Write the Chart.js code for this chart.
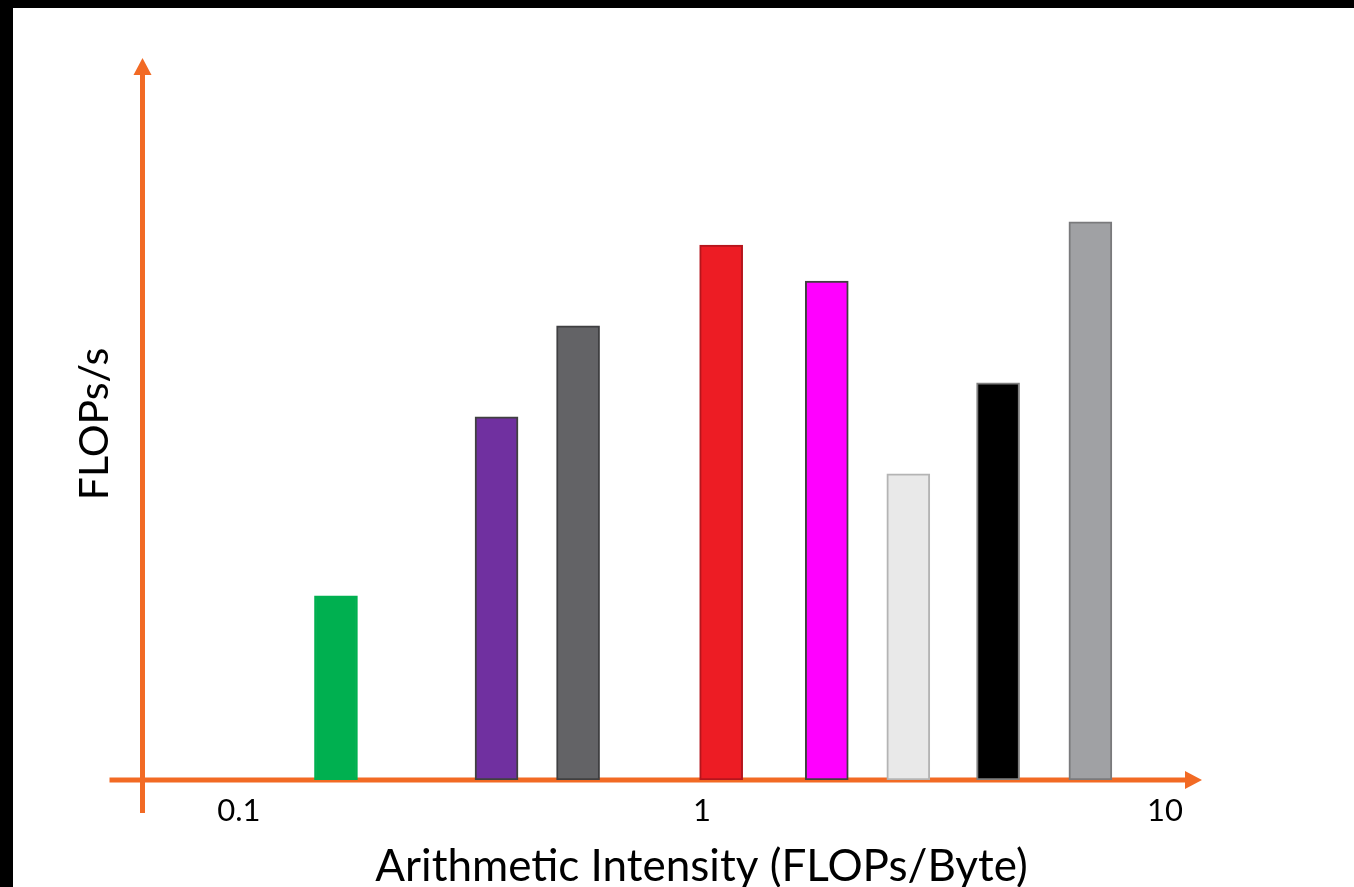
<!DOCTYPE html>
<html>
<head>
<meta charset="utf-8">
<script src="https://cdn.jsdelivr.net/npm/chart.js@4"></script>
<style>
  html, body { margin: 0; padding: 0; background: #000; }
  #wrap { position: absolute; left: 13px; top: 8px; width: 1341px; height: 879px; background: #fff; }
</style>
</head>
<body>
<div id="wrap"><canvas id="roofline"></canvas></div>
<script>
// arithmetic intensity (FLOPs/Byte) of each kernel
const intensity = [0.162, 0.36, 0.54, 1.1, 1.86, 2.79, 4.36, 6.9];
// achieved performance, arbitrary units (axis has no ticks)
const flops = [25.5, 50.3, 62.9, 74.1, 69.1, 42.4, 55.0, 77.3];
const fillColors = ['#00b050', '#7030a0', '#636366', '#ed1c24', '#ff00ff', '#e9e9e9', '#000000', '#a0a1a4'];
const edgeColors = ['#00b050', '#404040', '#3f3f41', '#b5151c', '#404040', '#b4b4b4', '#7f7f7f', '#7a7a7c'];
const tickValues = [0.1, 1, 10];
const xTitle = 'Arithmetic Intensity (FLOPs/Byte)';
const yTitle = 'FLOPs/s';

const orange = '#f26a24';
const FONT = 'Lato, "Open Sans", sans-serif';

// orange axes with arrow heads, drawn under the bars
const arrowAxes = {
    id: 'arrowAxes',
    beforeDatasetsDraw(chart) {
        const { ctx, chartArea } = chart;
        const { left, right, top, bottom } = chartArea;
        const head = 17, half = 9;
        ctx.save();
        ctx.strokeStyle = orange;
        ctx.fillStyle = orange;
        ctx.lineWidth = 5;

        ctx.beginPath();
        ctx.moveTo(left, bottom + 33);
        ctx.lineTo(left, top + head);
        ctx.stroke();
        ctx.beginPath();
        ctx.moveTo(left, top);
        ctx.lineTo(left - half, top + head);
        ctx.lineTo(left + half, top + head);
        ctx.closePath();
        ctx.fill();

        ctx.beginPath();
        ctx.moveTo(left - 33, bottom);
        ctx.lineTo(right - head, bottom);
        ctx.stroke();
        ctx.beginPath();
        ctx.moveTo(right, bottom);
        ctx.lineTo(right - head, bottom - half);
        ctx.lineTo(right - head, bottom + half);
        ctx.closePath();
        ctx.fill();
        ctx.restore();
    },
    // axis titles sit off-centre in the original, so place them by hand
    afterDraw(chart) {
        const { ctx, chartArea } = chart;
        ctx.save();
        ctx.fillStyle = '#000';
        ctx.textAlign = 'center';
        ctx.textBaseline = 'alphabetic';
        ctx.font = '44px ' + FONT;
        ctx.fillText(xTitle, 688.5, chartArea.bottom + 101);

        ctx.font = '41px ' + FONT;
        ctx.translate(chartArea.left - 34.5, 416);
        ctx.rotate(-Math.PI / 2);
        ctx.fillText(yTitle, 0, 0);
        ctx.restore();
    }
};

const ctx = document.getElementById('roofline').getContext('2d');
const chart = new Chart(ctx, {
    type: 'bar',
    data: {
        datasets: [{
            data: intensity.map((x, i) => ({ x: x, y: flops[i] })),
            backgroundColor: fillColors,
            borderColor: edgeColors,
            borderWidth: 2,
            borderSkipped: false,
            barThickness: 43
        }]
    },
    options: {
        responsive: true,
        maintainAspectRatio: false,
        animation: false,
        layout: { padding: { top: 50, right: 152, left: 0, bottom: 0 } },
        plugins: { legend: { display: false }, tooltip: { enabled: false } },
        scales: {
            x: {
                type: 'logarithmic',
                offset: false,
                min: 0.0619,
                max: 12.02,
                grid: { display: false, drawTicks: false },
                border: { display: false },
                afterBuildTicks: scale => {
                    scale.ticks = tickValues.map(v => ({ value: v }));
                },
                afterFit: scale => { scale.height = 107; },
                ticks: {
                    autoSkip: false,
                    maxRotation: 0,
                    padding: 12,
                    color: '#000',
                    font: { family: FONT, size: 31 },
                    callback: v => String(v)
                }
            },
            y: {
                min: 0,
                max: 100,
                grid: { display: false, drawTicks: false },
                border: { display: false },
                ticks: { display: false },
                afterFit: scale => { scale.width = 129.5; }
            }
        }
    },
    plugins: [arrowAxes]
});
</script>
</body>
</html>
